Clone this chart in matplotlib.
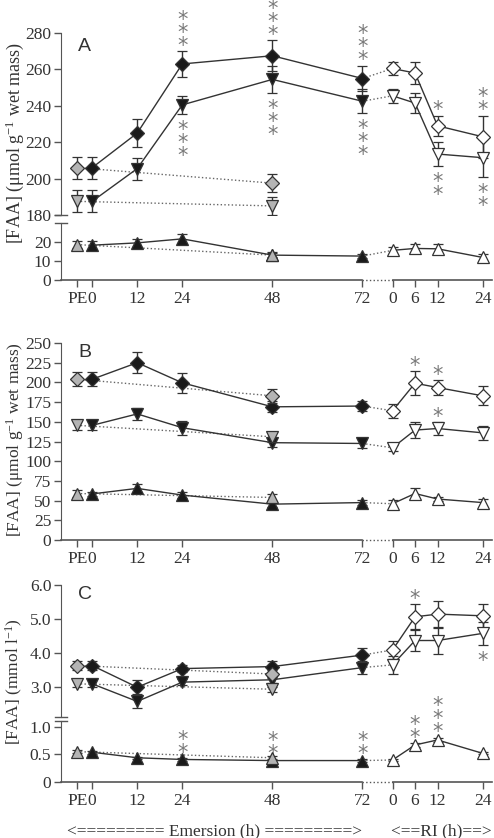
#!/usr/bin/env python3
"""FAA concentrations during emersion and re-immersion (panels A-C)."""

import matplotlib
matplotlib.use("Agg")
import matplotlib.pyplot as plt
import matplotlib.transforms as mtrans

# x positions (hours); RI hours are shifted after the 72 h emersion point
PE_X = -4
RI_SHIFT = 80
em_hours = [0, 12, 24, 48, 72]
ri_hours = [0, 6, 12, 24]
ctl_hour = 48
tick_labels = ['PE', '0', '12', '24', '48', '72', '0', '6', '12', '24']

# ---- Panel A: tissue FAA (umol g-1 wet mass)
A_dia_em = [206, 225, 263, 267.5, 255]
A_dia_em_err = [6, 7.5, 7, 8.5, 7]
A_dia_ri = [260.5, 258, 229, 223]
A_dia_ri_err = [3.5, 6, 5.5, 11.5]
A_dia_pe, A_dia_pe_err = 206, 6
A_dia_ctl, A_dia_ctl_err = 197.5, 5

A_vtri_em = [187.5, 205.5, 240.5, 254.5, 242.5]
A_vtri_em_err = [6, 6, 5, 7.5, 6.5]
A_vtri_ri = [245.5, 241.5, 213.5, 211.5]
A_vtri_ri_err = [4, 5.5, 6.5, 10.5]
A_vtri_pe, A_vtri_pe_err = 187.5, 6
A_vtri_ctl, A_vtri_ctl_err = 185, 5

A_atri_em = [18.2, 19.4, 21.5, 13, 12.5]
A_atri_em_err = [2, 2, 2.5, 1, 1]
A_atri_ri = [15.5, 16.5, 16.3, 11.8]
A_atri_ri_err = [2, 2.5, 2.5, 2]
A_atri_pe, A_atri_pe_err = 18.5, 2
A_atri_ctl, A_atri_ctl_err = 13, 1.5

# ---- Panel B
B_dia_em = [204, 225, 199.5, 169, 170]
B_dia_em_err = [9, 13, 13, 7, 6]
B_dia_ri = [164, 199, 193.5, 183]
B_dia_ri_err = [9, 15, 9, 12]
B_dia_pe, B_dia_pe_err = 204, 9
B_dia_ctl, B_dia_ctl_err = 183, 9

B_vtri_em = [145.5, 160, 142.5, 123.5, 122.5]
B_vtri_em_err = [6, 8, 9, 6, 6]
B_vtri_ri = [117, 139.5, 141.5, 136]
B_vtri_ri_err = [4, 10, 8, 9]
B_vtri_pe, B_vtri_pe_err = 145.5, 6
B_vtri_ctl, B_vtri_ctl_err = 131, 6

B_atri_em = [58.5, 65.5, 57, 45.5, 47.5]
B_atri_em_err = [3, 5.5, 4, 3, 3]
B_atri_ri = [46, 59, 52, 47.5]
B_atri_ri_err = [5, 7, 3, 5]
B_atri_pe, B_atri_pe_err = 59, 4
B_atri_ctl, B_atri_ctl_err = 54, 4

# ---- Panel C: haemolymph FAA (mmol l-1)
C_dia_em = [3.62, 2.98, 3.53, 3.59, 3.93]
C_dia_em_err = [0.12, 0.2, 0.1, 0.15, 0.22]
C_dia_ri = [4.08, 5.06, 5.14, 5.09]
C_dia_ri_err = [0.28, 0.37, 0.4, 0.36]
C_dia_pe, C_dia_pe_err = 3.62, 0.12
C_dia_ctl, C_dia_ctl_err = 3.37, 0.12

C_vtri_em = [3.08, 2.56, 3.13, 3.2, 3.56]
C_vtri_em_err = [0.1, 0.18, 0.08, 0.1, 0.19]
C_vtri_ri = [3.64, 4.36, 4.36, 4.57]
C_vtri_ri_err = [0.26, 0.32, 0.4, 0.33]
C_vtri_pe, C_vtri_pe_err = 3.08, 0.1
C_vtri_ctl, C_vtri_ctl_err = 2.92, 0.08

C_atri_em = [0.54, 0.44, 0.41, 0.39, 0.39]
C_atri_em_err = [0.03, 0.02, 0.02, 0.02, 0.02]
C_atri_ri = [0.40, 0.67, 0.76, 0.52]
C_atri_ri_err = [0.02, 0.03, 0.04, 0.02]
C_atri_pe, C_atri_pe_err = 0.55, 0.03
C_atri_ctl, C_atri_ctl_err = 0.44, 0.04

INK = '#333333'
AX = '#555555'
GREY = '#b4b4b4'
STAR = '#7a7a7a'
SERIF = 'Liberation Serif'

plt.rcParams['font.family'] = SERIF
plt.rcParams['font.size'] = 12
plt.rcParams['text.color'] = INK
plt.rcParams['mathtext.fontset'] = 'custom'
plt.rcParams['mathtext.rm'] = SERIF
plt.rcParams['mathtext.it'] = SERIF + ':italic'

fig = plt.figure(figsize=(4.94, 8.38), dpi=100)

L, W = 61 / 494, 431 / 494
H = 838


def new_ax(top_px, bot_px):
    return fig.add_axes([L, (H - bot_px) / H, W, (bot_px - top_px) / H])


def style(ax, xaxis=True):
    ax.set_xlim(-8.3, 106.5)
    for s in ['top', 'right', 'bottom']:
        ax.spines[s].set_visible(False)
    ax.spines['left'].set_color(AX)
    ax.tick_params(axis='y', direction='out', length=5, width=1, color=AX,
                   labelcolor=INK, labelsize=12.5, pad=2)
    if xaxis:
        xt = [PE_X] + em_hours + [h + RI_SHIFT for h in ri_hours]
        ax.set_xticks(xt)
        ax.set_xticklabels(tick_labels)
        ax.tick_params(axis='x', direction='out', length=5, width=1, color=AX,
                       labelcolor=INK, labelsize=12.5, pad=3)
        tr = mtrans.blended_transform_factory(ax.transData, ax.transAxes)
        ax.plot([-8.3, 72], [0, 0], color=AX, lw=1.2, transform=tr, clip_on=False)
        ax.plot([72, 80], [0, 0], color=AX, lw=1, ls=':', transform=tr, clip_on=False)
        ax.plot([80, 106.5], [0, 0], color=AX, lw=1.2, transform=tr, clip_on=False)
    else:
        ax.set_xticks([])


def break_mark(ax, y):
    ax.plot([-0.014, 0.014], [y, y], color=AX, lw=1, transform=ax.transAxes,
            clip_on=False)


def series(ax, marker, ms, em, em_err, ri, ri_err, pe, pe_err, ctl, ctl_err):
    ri_x = [h + RI_SHIFT for h in ri_hours]
    eb = dict(ecolor=INK, elinewidth=1, capsize=3.5, capthick=1,
              mec=INK, mew=0.9, ms=ms, marker=marker)
    ax.plot([PE_X, ctl_hour], [pe, ctl], ls=':', color='#666666', lw=1, zorder=1)
    ax.plot([em_hours[-1], ri_x[0]], [em[-1], ri[0]], ls=':', color='#666666', lw=1, zorder=1)
    ax.errorbar(em_hours, em, yerr=em_err, color=INK, lw=1, mfc='#1a1a1a', zorder=3, **eb)
    ax.errorbar(ri_x, ri, yerr=ri_err, color=INK, lw=1, mfc='white', zorder=3, **eb)
    ax.errorbar([PE_X, ctl_hour], [pe, ctl], yerr=[pe_err, ctl_err], ls='none',
                mfc=GREY, zorder=4, **eb)


def stars(ax, x, y, n, side):
    txt = '\n'.join(['*'] * n)
    kw = dict(textcoords='offset points', ha='center', fontsize=15,
              linespacing=0.56, color=STAR, family='DejaVu Sans')
    if side == 'above':
        ax.annotate(txt, xy=(x, y), xytext=(0, -3.3), va='bottom', **kw)
    else:
        ax.annotate(txt, xy=(x, y), xytext=(0, -4.5), va='top', **kw)


def top_of(v, e, i):
    return v[i] + e[i]


def bot_of(v, e, i):
    return v[i] - e[i]


RI_X = [h + RI_SHIFT for h in ri_hours]

# ================= Panel A
aA = new_ax(33, 215)
aAl = new_ax(222.6, 280)
style(aA, xaxis=False)
style(aAl)
aA.set_ylim(180, 280)
aA.set_yticks([180, 200, 220, 240, 260, 280])
aAl.set_ylim(0, 30)
aAl.set_yticks([0, 10, 20])
break_mark(aA, 0)
break_mark(aAl, 1)

series(aA, 'D', 7, A_dia_em, A_dia_em_err, A_dia_ri, A_dia_ri_err,
       A_dia_pe, A_dia_pe_err, A_dia_ctl, A_dia_ctl_err)
series(aA, 'v', 8, A_vtri_em, A_vtri_em_err, A_vtri_ri, A_vtri_ri_err,
       A_vtri_pe, A_vtri_pe_err, A_vtri_ctl, A_vtri_ctl_err)
series(aAl, '^', 8, A_atri_em, A_atri_em_err, A_atri_ri, A_atri_ri_err,
       A_atri_pe, A_atri_pe_err, A_atri_ctl, A_atri_ctl_err)

for i in [2, 3, 4]:
    stars(aA, em_hours[i], top_of(A_dia_em, A_dia_em_err, i), 3, 'above')
    stars(aA, em_hours[i], bot_of(A_vtri_em, A_vtri_em_err, i), 3, 'below')
stars(aA, RI_X[2], top_of(A_dia_ri, A_dia_ri_err, 2), 1, 'above')
stars(aA, RI_X[3], top_of(A_dia_ri, A_dia_ri_err, 3), 2, 'above')
stars(aA, RI_X[2], bot_of(A_vtri_ri, A_vtri_ri_err, 2), 2, 'below')
stars(aA, RI_X[3], bot_of(A_vtri_ri, A_vtri_ri_err, 3), 2, 'below')

aA.text(0.04, 0.97, 'A', transform=aA.transAxes, fontsize=14,
        family='Liberation Sans', va='top', ha='left')
fig.text(0.03, (H - 143) / H, '[FAA] (μmol g$^{-1}$ wet mass)',
         rotation=90, ha='center', va='center', fontsize=13)

# ================= Panel B
aB = new_ax(343, 540)
style(aB)
aB.set_ylim(0, 250)
aB.set_yticks(range(0, 251, 25))

series(aB, 'D', 7, B_dia_em, B_dia_em_err, B_dia_ri, B_dia_ri_err,
       B_dia_pe, B_dia_pe_err, B_dia_ctl, B_dia_ctl_err)
series(aB, 'v', 8, B_vtri_em, B_vtri_em_err, B_vtri_ri, B_vtri_ri_err,
       B_vtri_pe, B_vtri_pe_err, B_vtri_ctl, B_vtri_ctl_err)
series(aB, '^', 8, B_atri_em, B_atri_em_err, B_atri_ri, B_atri_ri_err,
       B_atri_pe, B_atri_pe_err, B_atri_ctl, B_atri_ctl_err)

stars(aB, RI_X[1], top_of(B_dia_ri, B_dia_ri_err, 1), 1, 'above')
stars(aB, RI_X[2], top_of(B_dia_ri, B_dia_ri_err, 2), 1, 'above')
stars(aB, RI_X[2], top_of(B_vtri_ri, B_vtri_ri_err, 2), 1, 'above')

aB.text(0.04, 0.995, 'B', transform=aB.transAxes, fontsize=14,
        family='Liberation Sans', va='top', ha='left')
fig.text(0.03, (H - 440) / H, '[FAA] (μmol g$^{-1}$ wet mass)',
         rotation=90, ha='center', va='center', fontsize=12.5)

# ================= Panel C
aC = new_ax(585, 717)
aCl = new_ax(721, 782.3)
style(aC, xaxis=False)
style(aCl)
aC.set_ylim(2.1, 6.0)
aC.set_yticks([3.0, 4.0, 5.0, 6.0])
aC.set_yticklabels(['3.0', '4.0', '5.0', '6.0'])
aCl.set_ylim(0, 1.1)
aCl.set_yticks([0, 0.5, 1.0])
aCl.set_yticklabels(['0', '0.5', '1.0'])
break_mark(aC, 0)
break_mark(aCl, 1)

series(aC, 'D', 7, C_dia_em, C_dia_em_err, C_dia_ri, C_dia_ri_err,
       C_dia_pe, C_dia_pe_err, C_dia_ctl, C_dia_ctl_err)
series(aC, 'v', 8, C_vtri_em, C_vtri_em_err, C_vtri_ri, C_vtri_ri_err,
       C_vtri_pe, C_vtri_pe_err, C_vtri_ctl, C_vtri_ctl_err)
series(aCl, '^', 8, C_atri_em, C_atri_em_err, C_atri_ri, C_atri_ri_err,
       C_atri_pe, C_atri_pe_err, C_atri_ctl, C_atri_ctl_err)

stars(aC, RI_X[1], top_of(C_dia_ri, C_dia_ri_err, 1), 1, 'above')
stars(aC, RI_X[3], bot_of(C_vtri_ri, C_vtri_ri_err, 3), 1, 'below')
for i in [2, 3, 4]:
    stars(aCl, em_hours[i], top_of(C_atri_em, C_atri_em_err, i), 2, 'above')
stars(aCl, RI_X[1], top_of(C_atri_ri, C_atri_ri_err, 1), 2, 'above')
stars(aCl, RI_X[2], top_of(C_atri_ri, C_atri_ri_err, 2), 3, 'above')

aC.text(0.04, 0.99, 'C', transform=aC.transAxes, fontsize=14,
        family='Liberation Sans', va='top', ha='left')
fig.text(0.03, (H - 682) / H, '[FAA] (mmol l$^{-1}$)',
         rotation=90, ha='center', va='center', fontsize=12.5)

# bottom captions
fig.text(214 / 494, (H - 831) / H, '<========= Emersion (h) =========>',
         ha='center', va='center', fontsize=12.5)
fig.text(441 / 494, (H - 831) / H, '<==RI (h)==>',
         ha='center', va='center', fontsize=12.5)

fig.savefig('out.png', dpi=100)
